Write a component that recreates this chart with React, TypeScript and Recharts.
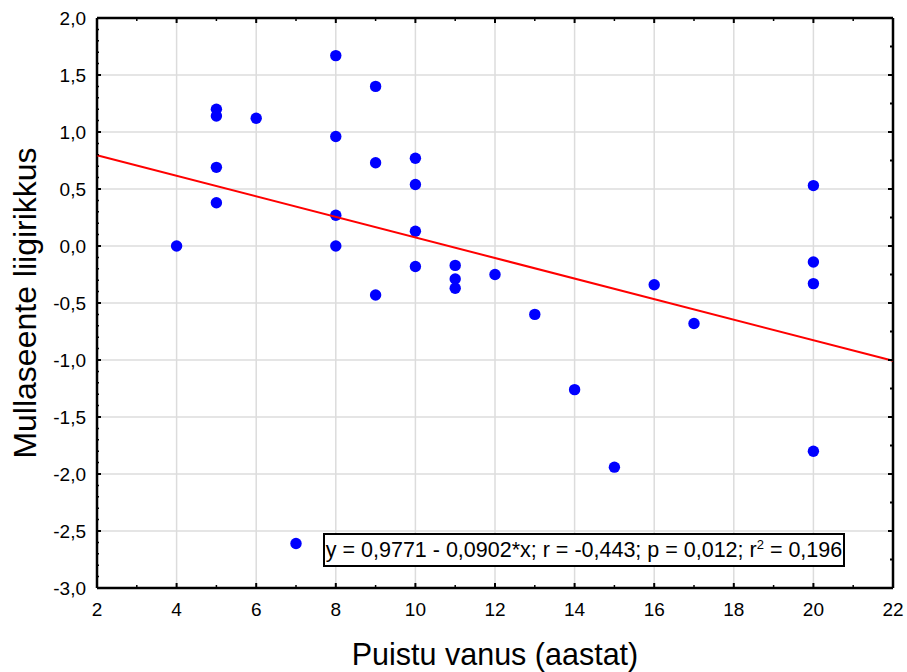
import { ScatterChart, Scatter, XAxis, YAxis, ReferenceLine, Label } from 'recharts';

// puistu vanus (aastat) ja mullaseente liigirikkus
const ages = [4, 5, 5, 5, 5, 6, 7, 8, 8, 8, 8, 9, 9, 9, 10, 10, 10, 10, 11, 11, 11, 12, 13, 14, 15, 16, 17, 20, 20, 20, 20];
const richness = [
  0.0, 1.2, 1.14, 0.69, 0.38, 1.12, -2.61, 1.67, 0.96, 0.27, 0.0, 1.4, 0.73, -0.43, 0.77, 0.54, 0.13, -0.18,
  -0.17, -0.29, -0.37, -0.25, -0.6, -1.26, -1.94, -0.34, -0.68, 0.53, -0.14, -0.33, -1.8,
];

// regressioonisirge otspunktid (y = 0,9771 - 0,0902*x)
const fitX = [2, 22];
const fitY = [0.7967, -1.0073];

const xMajor = [2, 4, 6, 8, 10, 12, 14, 16, 18, 20, 22];
const yMajor = [-3, -2.5, -2, -1.5, -1, -0.5, 0, 0.5, 1, 1.5, 2];
const statText = 'y = 0,9771 - 0,0902*x; r = -0,443; p = 0,012; r';

const points = ages.map((a, i) => ({ x: a, y: richness[i] }));
const fitLine = fitX.map((x, i) => ({ x, y: fitY[i] }));

// väikesed jaotised
const xMinor = Array.from({ length: 21 }, (_, i) => 2 + i);
const yFine = Array.from({ length: 51 }, (_, i) => Math.round((-3 + i * 0.1) * 10) / 10);
const yQuarter = Array.from({ length: 21 }, (_, i) => -3 + i * 0.25);

const FONT = '"Liberation Sans", Arial, sans-serif';
const fmt = (v: number) => v.toFixed(1).replace('.', ',');
const isHalf = (v: number) => Math.round(v * 10) % 5 === 0;

function BottomTick({ x, y, payload }: any) {
  const v = payload.value;
  const major = v % 2 === 0;
  return (
    <g>
      <line x1={x} x2={x} y1={y} y2={y - (major ? 5 : 3)} stroke="#000" strokeWidth={major ? 2 : 1.5} />
      {major && (
        <text x={x} y={y + 28} textAnchor="middle" fontSize={19} fontFamily={FONT} fill="#000">
          {v}
        </text>
      )}
    </g>
  );
}

function TopTick({ x, y, payload }: any) {
  const major = payload.value % 2 === 0;
  return <line x1={x} x2={x} y1={y} y2={y + (major ? 5 : 3)} stroke="#000" strokeWidth={major ? 2 : 1.5} />;
}

function LeftTick({ x, y, payload }: any) {
  const v = payload.value;
  const major = isHalf(v);
  return (
    <g>
      <line x1={x} x2={x + (major ? 4 : 2)} y1={y} y2={y} stroke="#000" strokeWidth={major ? 2 : 1.5} />
      {major && (
        <text x={x - 11} y={y} dy="0.36em" textAnchor="end" fontSize={19} fontFamily={FONT} fill="#000">
          {fmt(v)}
        </text>
      )}
    </g>
  );
}

function RightTick({ x, y, payload }: any) {
  const major = isHalf(payload.value);
  return <line x1={x} x2={x - (major ? 5 : 3)} y1={y} y2={y} stroke="#000" strokeWidth={2} />;
}

const axisLine = { stroke: '#000', strokeWidth: 2.5 };

export default function App() {
  return (
    <div style={{ position: 'absolute', left: 0, top: 0, width: 907, height: 672, background: '#fff', fontFamily: FONT }}>
      <ScatterChart width={907} height={672} margin={{ top: 17, right: 13, bottom: 0, left: 0 }}>
        <XAxis
          xAxisId="x"
          dataKey="x"
          type="number"
          domain={[2, 22]}
          ticks={xMinor}
          interval={0}
          height={84}
          tickSize={0}
          tickMargin={0}
          tickLine={false}
          tick={<BottomTick />}
          axisLine={axisLine}
        >
          <Label
            content={(props: any) => {
              const vb = props.viewBox;
              return (
                <text x={vb.x + vb.width / 2} y={vb.y + 77} textAnchor="middle" fontSize={30.5} fontFamily={FONT} fill="#000">
                  Puistu vanus (aastat)
                </text>
              );
            }}
          />
        </XAxis>
        <XAxis
          xAxisId="top"
          dataKey="x"
          orientation="top"
          type="number"
          domain={[2, 22]}
          allowDataOverflow
          ticks={xMinor}
          interval={0}
          height={1}
          tickSize={0}
          tickMargin={0}
          tickLine={false}
          tick={<TopTick />}
          axisLine={axisLine}
        />
        <YAxis
          yAxisId="y"
          dataKey="y"
          type="number"
          domain={[-3, 2]}
          ticks={yFine}
          interval={0}
          width={97}
          tickSize={0}
          tickMargin={0}
          tickLine={false}
          tick={<LeftTick />}
          axisLine={axisLine}
        >
          <Label
            content={(props: any) => {
              const vb = props.viewBox;
              const cx = vb.x + 25;
              const cy = vb.y + vb.height / 2;
              return (
                <text
                  x={cx}
                  y={cy}
                  transform={`rotate(-90, ${cx}, ${cy})`}
                  textAnchor="middle"
                  dominantBaseline="central"
                  fontSize={32}
                  fontFamily={FONT}
                  fill="#000"
                >
                  Mullaseente liigirikkus
                </text>
              );
            }}
          />
        </YAxis>
        <YAxis
          yAxisId="right"
          dataKey="y"
          orientation="right"
          type="number"
          domain={[-3, 2]}
          allowDataOverflow
          ticks={yQuarter}
          interval={0}
          width={1}
          tickSize={0}
          tickMargin={0}
          tickLine={false}
          tick={<RightTick />}
          axisLine={axisLine}
        />
        {xMajor.slice(1, -1).map((v) => (
          <ReferenceLine key={`gx${v}`} xAxisId="x" yAxisId="y" x={v} stroke="#dcdcdc" strokeWidth={1.5} />
        ))}
        {yMajor.slice(1, -1).map((v) => (
          <ReferenceLine key={`gy${v}`} xAxisId="x" yAxisId="y" y={v} stroke="#dcdcdc" strokeWidth={1.5} />
        ))}
        {/* nähtamatu seeria, et ülemine ja parem telg saaksid skaala */}
        <Scatter xAxisId="top" yAxisId="right" data={points} isAnimationActive={false} shape={() => <g />} />
        <Scatter
          xAxisId="x"
          yAxisId="y"
          data={points}
          isAnimationActive={false}
          shape={(p: any) => <circle cx={p.cx} cy={p.cy} r={5.7} fill="#0000ff" />}
        />
        <Scatter
          xAxisId="x"
          yAxisId="y"
          data={fitLine}
          isAnimationActive={false}
          line={{ stroke: '#ff0000', strokeWidth: 2 }}
          shape={() => <g />}
        />
      </ScatterChart>
      <div
        style={{
          position: 'absolute',
          left: 323,
          top: 533,
          width: 522,
          height: 34,
          boxSizing: 'border-box',
          border: '2.5px solid #000',
          background: '#fff',
          display: 'flex',
          alignItems: 'center',
          justifyContent: 'center',
          color: '#000',
          whiteSpace: 'nowrap',
        }}
      >
        <span style={{ fontSize: 21.5 }}>
          {statText}
          <sup style={{ fontSize: 13, lineHeight: 0 }}>2</sup>
          {' = 0,196'}
        </span>
      </div>
    </div>
  );
}
